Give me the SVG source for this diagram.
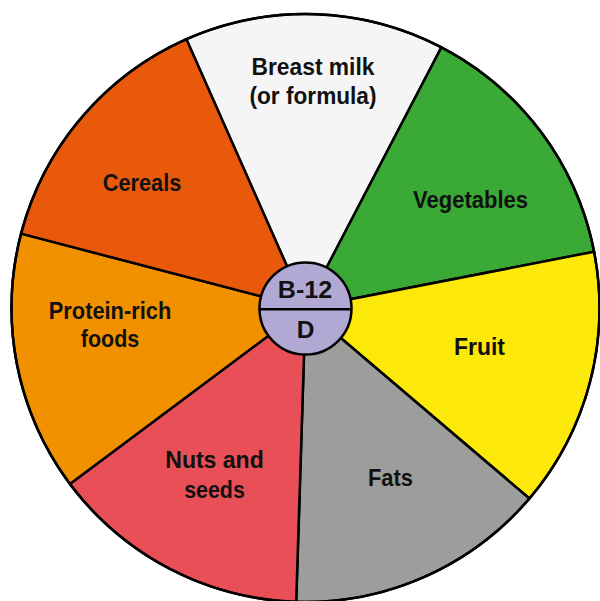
<svg xmlns="http://www.w3.org/2000/svg" width="600" height="601" viewBox="0 0 600 601">
<style>
.s{stroke:#000;stroke-width:2.5;stroke-linejoin:round}
.t{font-family:"Liberation Sans",Arial,sans-serif;font-weight:bold;font-size:24.5px;fill:#111;text-anchor:middle}
</style>
<rect width="600" height="601" fill="#fff"/>
<g id="breast-milk">
<path class="s" fill="#F5F5F5" d="M305.5,308 L186.4,39.2 A294,294 0 0 1 441.4,47.3 Z"/>
<text class="t" x="313" y="75" textLength="123" lengthAdjust="spacingAndGlyphs">Breast milk</text>
<text class="t" x="313" y="104" textLength="127" lengthAdjust="spacingAndGlyphs">(or formula)</text>
</g>
<g id="vegetables">
<path class="s" fill="#3AA935" d="M305.5,308 L441.4,47.3 A294,294 0 0 1 594.1,251.7 Z"/>
<text class="t" x="470.5" y="208" textLength="115" lengthAdjust="spacingAndGlyphs">Vegetables</text>
</g>
<g id="fruit">
<path class="s" fill="#FCE90A" d="M305.5,308 L594.1,251.7 A294,294 0 0 1 529.4,498.5 Z"/>
<text class="t" x="479.5" y="355" textLength="51" lengthAdjust="spacingAndGlyphs">Fruit</text>
</g>
<g id="fats">
<path class="s" fill="#9D9E9C" d="M305.5,308 L529.4,498.5 A294,294 0 0 1 296.2,601.9 Z"/>
<text class="t" x="390.5" y="486" textLength="45" lengthAdjust="spacingAndGlyphs">Fats</text>
</g>
<g id="nuts-and-seeds">
<path class="s" fill="#E94F56" d="M305.5,308 L296.2,601.9 A294,294 0 0 1 69.9,483.9 Z"/>
<text class="t" x="214.5" y="468" textLength="98.5" lengthAdjust="spacingAndGlyphs">Nuts and</text>
<text class="t" x="214.5" y="497.5" textLength="60.5" lengthAdjust="spacingAndGlyphs">seeds</text>
</g>
<g id="protein-rich-foods">
<path class="s" fill="#F29100" d="M305.5,308 L69.9,483.9 A294,294 0 0 1 21.1,233.6 Z"/>
<text class="t" x="110" y="319" textLength="122.5" lengthAdjust="spacingAndGlyphs">Protein-rich</text>
<text class="t" x="110" y="347" textLength="58.5" lengthAdjust="spacingAndGlyphs">foods</text>
</g>
<g id="cereals">
<path class="s" fill="#E9590B" d="M305.5,308 L21.1,233.6 A294,294 0 0 1 186.4,39.2 Z"/>
<text class="t" x="142" y="191" textLength="78.5" lengthAdjust="spacingAndGlyphs">Cereals</text>
</g>
<g id="outline">
<circle cx="305.5" cy="308" r="294" fill="none" stroke="#000" stroke-width="2.5"/>
</g>
<g id="vitamins">
<circle class="s" cx="305.5" cy="308.5" r="46" fill="#B1A8D4"/>
<line x1="259.5" y1="309.3" x2="351.5" y2="309.3" stroke="#000" stroke-width="2.5"/>
<text class="t" x="305" y="298" textLength="54.5" lengthAdjust="spacingAndGlyphs">B-12</text>
<text class="t" x="305.5" y="338">D</text>
</g>
<g id="connectors"></g>
</svg>
